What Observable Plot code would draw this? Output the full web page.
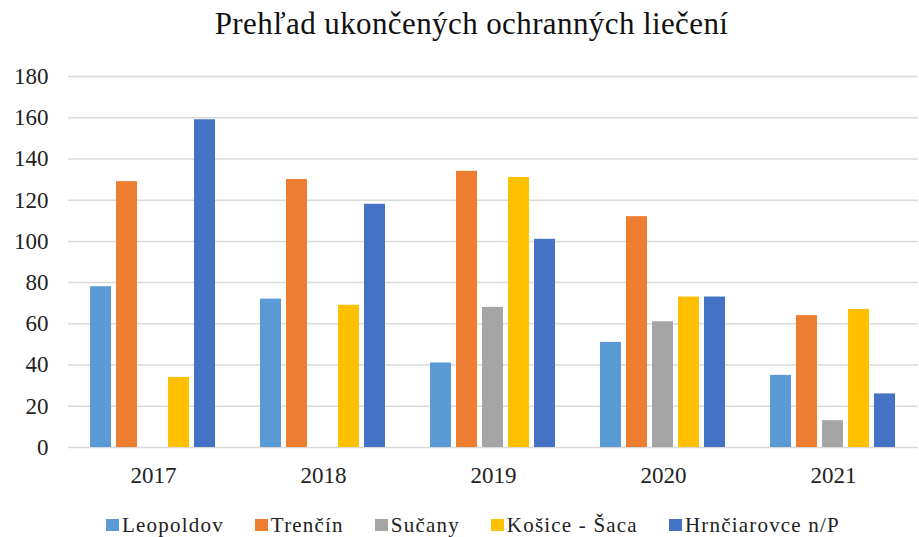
<!DOCTYPE html>
<html>
<head>
<meta charset="utf-8">
<script src="https://cdn.jsdelivr.net/npm/d3@7"></script>
<script src="https://cdn.jsdelivr.net/npm/@observablehq/plot@0.6"></script>
</head>
<body style="margin:0;background:#fff">
<div style="font-family:'Liberation Serif';height:55px;line-height:47px;text-align:center;font-size:31px;letter-spacing:0.4px;color:#111;padding-left:24px;box-sizing:border-box;white-space:nowrap;overflow:visible">Prehľad ukončených ochranných liečení</div>
<div id="chart" style="height:440px"></div>
<div id="legend" style="font-family:'Liberation Serif';display:flex;justify-content:center;align-items:center;gap:31px;font-size:21px;letter-spacing:1.2px;color:#222;height:42px;padding-top:18px;padding-left:27px;box-sizing:border-box"></div>
<script>
const years = ["2017", "2018", "2019", "2020", "2021"];
const seriesNames = ["Leopoldov", "Trenčín", "Sučany", "Košice - Šaca", "Hrnčiarovce n/P"];
const seriesColors = ["#5b9bd5", "#ed7d31", "#a5a5a5", "#ffc000", "#4472c4"];
const leopoldov = [78, 72, 41, 51, 35];
const trencin = [129, 130, 134, 112, 64];
const sucany = [0, 0, 68, 61, 13];
const kosice = [34, 69, 131, 73, 67];
const hrnciarovce = [159, 118, 101, 73, 26];
const yTicks = [0, 20, 40, 60, 80, 100, 120, 140, 160, 180];

const seriesValues = [leopoldov, trencin, sucany, kosice, hrnciarovce];
const data = [];
years.forEach((yr, i) => {
  seriesNames.forEach((s, j) => {
    data.push({year: yr, series: s, value: seriesValues[j][i]});
  });
});

const chart = Plot.plot({
  width: 919,
  height: 440,
  marginLeft: 67,
  marginRight: 0,
  marginTop: 21,
  marginBottom: 48,
  style: {fontFamily: "'Liberation Serif'", fontSize: "23px", color: "#222", background: "#fff", display: "block"},
  fx: {domain: years, padding: 0, axis: "bottom", tickSize: 0, tickPadding: 19, label: null},
  x: {domain: seriesNames, axis: null, paddingInner: 0.19, paddingOuter: 0.82},
  y: {domain: [0, 180], ticks: yTicks, tickSize: 0, tickPadding: 20, label: null},
  color: {domain: seriesNames, range: seriesColors},
  marks: [
    Plot.ruleY(yTicks, {stroke: "#d9d9d9", strokeWidth: 1.5}),
    Plot.barY(data.filter(d => d.value > 0), {fx: "year", x: "series", y: "value", fill: "series"})
  ]
});
document.getElementById("chart").appendChild(chart);

const legend = document.getElementById("legend");
seriesNames.forEach((s, j) => {
  const item = document.createElement("span");
  item.style.cssText = "display:flex;align-items:center;gap:3px;white-space:nowrap";
  const sw = document.createElement("span");
  sw.style.cssText = "width:13px;height:12px;display:inline-block;background:" + seriesColors[j];
  const t = document.createElement("span");
  t.textContent = s;
  item.appendChild(sw);
  item.appendChild(t);
  legend.appendChild(item);
});
</script>
</body>
</html>
